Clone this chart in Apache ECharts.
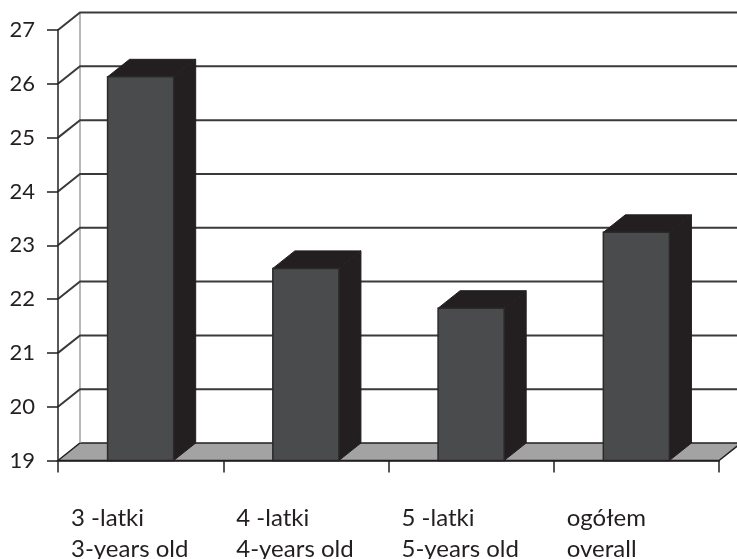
<!DOCTYPE html>
<html>
<head>
<meta charset="utf-8">
<script src="https://cdn.jsdelivr.net/npm/echarts@6/dist/echarts.min.js"></script>
<style>
  html, body { margin: 0; padding: 0; background: #fff; }
  #main { width: 737px; height: 559px; }
</style>
</head>
<body>
<div id="main"></div>
<script>
// dane
var categories = ['3 -latki\n3-years old', '4 -latki\n4-years old', '5 -latki\n5-years old', 'ogółem\noverall'];
var values = [26.13, 22.57, 21.83, 23.24];
var yTicks = [19, 20, 21, 22, 23, 24, 25, 26, 27];

// głębokość "3D"
var DX = 22, DY = -17.5;

var chart = echarts.init(document.getElementById('main'));

function renderWall(params, api) {
    var cs = params.coordSys;
    var v = api.value(1);
    var y = api.coord([0, v])[1];
    var x0 = cs.x, w = cs.width;
    var children = [];
    if (v === yTicks[0]) {
        // podłoga
        children.push({
            type: 'polygon',
            shape: { points: [[x0, y], [x0 + DX, y + DY], [x0 + w + DX, y + DY], [x0 + w, y]] },
            style: { fill: '#a3a3a3', stroke: '#231f20', lineWidth: 1.5 }
        });
        // tylna ściana - lewa krawędź
        children.push({
            type: 'line',
            shape: { x1: x0 + DX, y1: cs.y + DY, x2: x0 + DX, y2: y + DY },
            style: { stroke: '#a0a0a0', lineWidth: 1.5 }
        });
    } else {
        children.push({
            type: 'polyline',
            shape: { points: [[x0, y], [x0 + DX, y + DY], [x0 + w + DX, y + DY]] },
            style: { stroke: '#3a3a3a', lineWidth: 2, fill: null }
        });
    }
    return { type: 'group', children: children };
}

function renderBar(params, api) {
    var top = api.coord([api.value(0), api.value(1)]);
    var bottom = api.coord([api.value(0), yTicks[0]]);
    var bw = api.size([1, 0])[0] * 0.4;
    var L = top[0] - bw / 2, R = top[0] + bw / 2, T = top[1], B = bottom[1];
    return {
        type: 'group',
        children: [
            {
                type: 'polygon',
                shape: { points: [[R, T], [R + DX, T + DY], [R + DX, B + DY], [R, B]] },
                style: { fill: '#231f20', stroke: '#231f20', lineWidth: 1 }
            },
            {
                type: 'polygon',
                shape: { points: [[L, T], [L + DX, T + DY], [R + DX, T + DY], [R, T]] },
                style: { fill: '#231f20', stroke: '#231f20', lineWidth: 1 }
            },
            {
                type: 'rect',
                shape: { x: L, y: T, width: bw, height: B - T },
                style: { fill: '#4a4b4d', stroke: '#2a2a2a', lineWidth: 1.5 }
            }
        ]
    };
}

chart.setOption({
    animation: false,
    textStyle: { fontFamily: 'Lato' },
    grid: { left: 58, right: 18, top: 30, bottom: 98.5, containLabel: false, outerBoundsMode: 'none' },
    xAxis: [
        {
            type: 'category',
            data: categories,
            boundaryGap: true,
            axisLine: { show: true, lineStyle: { color: '#231f20', width: 1.5 } },
            axisTick: { show: true, length: 12, lineStyle: { color: '#231f20', width: 1.5 } },
            axisLabel: { show: false },
            splitLine: { show: false },
            z: 5
        },
        {
            type: 'category',
            data: categories.concat(['']),
            boundaryGap: false,
            position: 'bottom',
            axisLine: { show: false },
            axisTick: { show: false },
            axisLabel: {
                show: true,
                interval: 0,
                align: 'left',
                verticalAlign: 'top',
                margin: 42,
                padding: [0, 0, 0, 13],
                fontSize: 24,
                lineHeight: 31,
                color: '#231f20',
                fontFamily: 'Lato'
            }
        }
    ],
    yAxis: {
        type: 'value',
        min: 19,
        max: 27,
        interval: 1,
        axisLine: { show: true, lineStyle: { color: '#231f20', width: 1.5 } },
        axisTick: { show: true, length: 11, lineStyle: { color: '#231f20', width: 1.5 } },
        axisLabel: { fontSize: 22, color: '#231f20', margin: 23, fontFamily: 'Lato' },
        splitLine: { show: false },
        z: 5
    },
    series: [
        {
            type: 'custom',
            name: 'walls',
            xAxisIndex: 0,
            renderItem: renderWall,
            data: yTicks.map(function (v) { return [0, v]; }),
            encode: { x: 0, y: 1 },
            clip: false,
            silent: true,
            z: 1
        },
        {
            type: 'custom',
            name: 'bars',
            xAxisIndex: 0,
            renderItem: renderBar,
            data: values.map(function (v, i) { return [i, v]; }),
            encode: { x: 0, y: 1 },
            clip: false,
            z: 2
        }
    ]
});
</script>
</body>
</html>
